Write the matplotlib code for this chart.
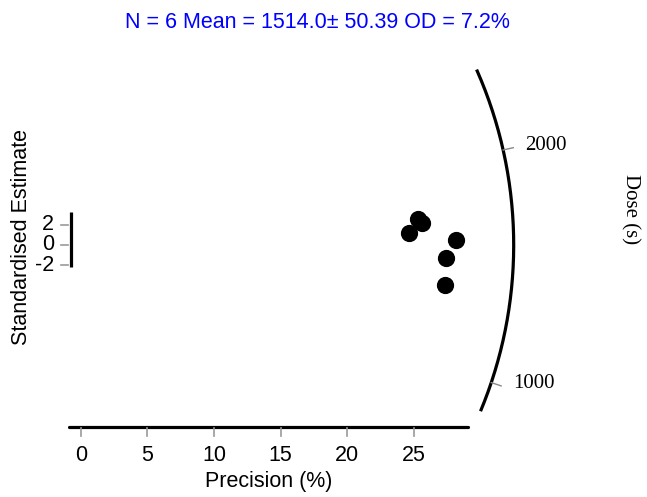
import numpy as np
import matplotlib
matplotlib.use("Agg")
from matplotlib import pyplot as plt

# values
precision = [25.3, 25.6, 24.65, 28.13, 27.38, 27.33]
std_estimate = [2.55, 2.16, 1.13, 0.49, -1.27, -3.97]
x_ticks = [0, 5, 10, 15, 20, 25]
y_ticks = [-2, 0, 2]
z_ticks = [1000, 2000]
z_range = [905, 2620]
central_dose = 1514.0
title = "N = 6 Mean = 1514.0\u00b1 50.39 OD = 7.2%"

W, H = 647, 497
x0_px, y0_px = 80.7, 245.0
x_px_per_unit, y_px_per_unit = 13.33, 10.2
arc_radius_px = 433.0
arc_stretch = 10.77 / 10.2

plt.rcParams["font.family"] = "Liberation Sans"
plt.rcParams["font.size"] = 15.5

fig = plt.figure(figsize=(W / 100, H / 100), dpi=100)
ax = fig.add_axes([0, 0, 1, 1])
ax.set_xlim(-x0_px / x_px_per_unit, (W - x0_px) / x_px_per_unit)
ax.set_ylim((y0_px - H) / y_px_per_unit, y0_px / y_px_per_unit)
ax.axis("off")

rx = arc_radius_px / x_px_per_unit
ry = arc_radius_px / y_px_per_unit


def arc_angle(dose):
    slope = (np.log(dose) - np.log(central_dose)) * arc_stretch
    return np.arctan(slope * y_px_per_unit / x_px_per_unit)


# z axis arc
t = np.linspace(arc_angle(z_range[0]), arc_angle(z_range[1]), 200)
ax.plot(rx * np.cos(t), ry * np.sin(t), color="black", lw=2.3, solid_capstyle="butt")
for d in z_ticks:
    a = arc_angle(d)
    xe, ye = 1.024 * rx * np.cos(a), 1.024 * ry * np.sin(a)
    ax.plot([rx * np.cos(a), xe], [ry * np.sin(a), ye], color="#888888", lw=1)
    ax.text(xe + 12 / x_px_per_unit, ye + 2 / y_px_per_unit, str(d), ha="left", va="center",
            family="Liberation Serif", fontsize=15)

# x axis
ax.plot([-0.88, 29.07], [-17.87, -17.87], color="black", lw=2.3, solid_capstyle="round")
for v in x_ticks:
    ax.plot([v, v], [-17.95, -18.75], color="#999999", lw=1.2)
    ax.text(v, -20.6, str(v), ha="center", va="center")
ax.text(14.13, -23.2, "Precision (%)", ha="center", va="center")

# standardised estimate axis
ax.plot([-0.75, -0.75], [-2.15, 3.25], color="black", lw=2.3, solid_capstyle="butt")
for v in y_ticks:
    ax.plot([-1.5, -0.95], [v, v], color="#999999", lw=1.2)
    ax.text(-2.0, v, str(v), ha="right", va="center")

ax.scatter(precision, std_estimate, s=130, color="black", zorder=3)

fig.text(22 / W, 1 - 237 / H, "Standardised Estimate", rotation=90, ha="center", va="center")
fig.text(630 / W, 1 - 209 / H, "Dose (s)", rotation=-90, ha="center", va="center",
         family="Liberation Serif", fontsize=15)
fig.text(317 / W, 1 - 22 / H, title, ha="center", va="center", color="blue")

fig.savefig("out.png", dpi=100)
